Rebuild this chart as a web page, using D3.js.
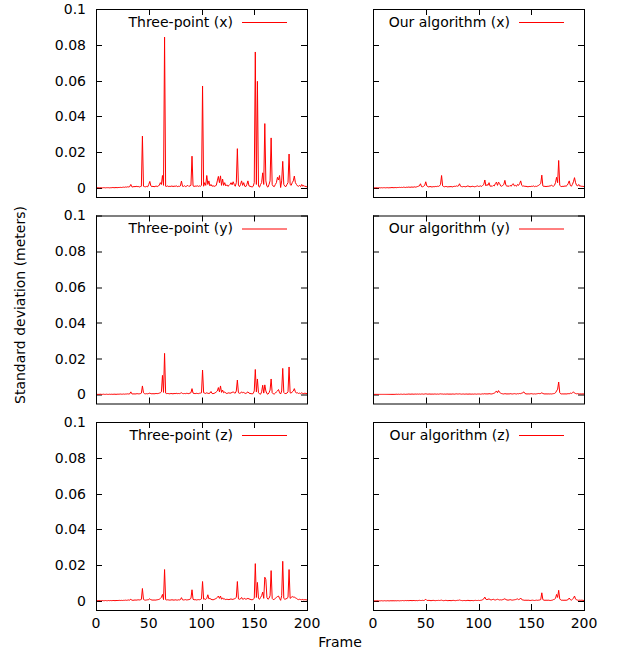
<!DOCTYPE html>
<html>
<head>
<meta charset="utf-8">
<script src="https://cdn.jsdelivr.net/npm/d3@7"></script>
<style>
  body { margin: 0; background: #fff; }
  svg text { font-family: 'DejaVu Sans', sans-serif; fill: #000; }
</style>
</head>
<body>
<svg id="chart" width="618" height="654"></svg>
<script>
// standard deviation per frame (meters), frames 1..200
const threePointX = [
  0.0002,0.0002,0.0001,0.0002,0.0002,0.0001,0.0002,0.0002,0.0001,0.0002,0.0002,0.0002,0.0001,0.0002,0.0002,0.0003,0.0002,0.0002,0.0003,0.0002,
  0.0003,0.0003,0.0004,0.0003,0.0004,0.0005,0.0004,0.0006,0.0005,0.0007,0.0006,0.0008,0.0020,0.0007,0.0006,0.0009,0.0007,0.0010,0.0008,0.0009,
  0.0006,0.0008,0.0010,0.0290,0.0010,0.0008,0.0007,0.0009,0.0007,0.0020,0.0037,0.0012,0.0008,0.0010,0.0007,0.0009,0.0011,0.0008,0.0012,0.0015,
  0.0030,0.0020,0.0070,0.0015,0.0843,0.0010,0.0009,0.0012,0.0008,0.0010,0.0009,0.0012,0.0008,0.0011,0.0009,0.0013,0.0008,0.0010,0.0009,0.0012,
  0.0039,0.0010,0.0009,0.0013,0.0008,0.0011,0.0015,0.0009,0.0012,0.0015,0.0178,0.0012,0.0009,0.0011,0.0010,0.0013,0.0009,0.0012,0.0010,0.0015,
  0.0570,0.0010,0.0030,0.0015,0.0070,0.0020,0.0040,0.0012,0.0020,0.0010,0.0013,0.0009,0.0012,0.0015,0.0040,0.0065,0.0030,0.0068,0.0015,0.0050,
  0.0015,0.0030,0.0012,0.0018,0.0010,0.0014,0.0020,0.0030,0.0018,0.0035,0.0020,0.0010,0.0030,0.0220,0.0015,0.0008,0.0020,0.0040,0.0015,0.0030,
  0.0010,0.0008,0.0020,0.0040,0.0012,0.0010,0.0008,0.0006,0.0010,0.0030,0.0760,0.0020,0.0596,0.0010,0.0005,0.0020,0.0030,0.0085,0.0020,0.0360,
  0.0040,0.0010,0.0005,0.0020,0.0040,0.0280,0.0020,0.0010,0.0008,0.0020,0.0030,0.0060,0.0045,0.0070,0.0003,0.0040,0.0149,0.0020,0.0010,0.0008,
  0.0020,0.0030,0.0190,0.0020,0.0015,0.0030,0.0040,0.0067,0.0030,0.0020,0.0012,0.0010,0.0015,0.0008,0.0020,0.0010,0.0015,0.0008,0.0010,0.0005
];
const ourX = [
  0.0001,0.0001,0.0002,0.0001,0.0001,0.0002,0.0001,0.0002,0.0001,0.0002,0.0002,0.0001,0.0002,0.0002,0.0001,0.0002,0.0002,0.0003,0.0002,0.0002,
  0.0003,0.0002,0.0003,0.0003,0.0004,0.0003,0.0004,0.0003,0.0005,0.0004,0.0003,0.0005,0.0004,0.0006,0.0004,0.0005,0.0006,0.0004,0.0007,0.0005,
  0.0006,0.0008,0.0010,0.0012,0.0024,0.0008,0.0007,0.0010,0.0015,0.0035,0.0012,0.0008,0.0006,0.0009,0.0007,0.0006,0.0008,0.0007,0.0009,0.0008,
  0.0010,0.0009,0.0012,0.0020,0.0070,0.0012,0.0008,0.0007,0.0009,0.0008,0.0006,0.0008,0.0007,0.0009,0.0006,0.0008,0.0010,0.0009,0.0012,0.0010,
  0.0012,0.0024,0.0010,0.0008,0.0007,0.0009,0.0008,0.0007,0.0010,0.0012,0.0009,0.0007,0.0008,0.0010,0.0009,0.0007,0.0008,0.0010,0.0012,0.0009,
  0.0010,0.0012,0.0009,0.0015,0.0020,0.0045,0.0012,0.0020,0.0015,0.0030,0.0010,0.0012,0.0009,0.0015,0.0012,0.0025,0.0033,0.0015,0.0033,0.0025,
  0.0012,0.0010,0.0015,0.0020,0.0043,0.0015,0.0010,0.0012,0.0009,0.0015,0.0010,0.0020,0.0024,0.0012,0.0015,0.0010,0.0020,0.0015,0.0025,0.0040,
  0.0015,0.0010,0.0012,0.0009,0.0010,0.0008,0.0007,0.0009,0.0008,0.0010,0.0009,0.0012,0.0008,0.0010,0.0009,0.0012,0.0015,0.0020,0.0025,0.0072,
  0.0012,0.0009,0.0010,0.0008,0.0010,0.0009,0.0012,0.0010,0.0017,0.0012,0.0010,0.0015,0.0030,0.0060,0.0030,0.0154,0.0015,0.0010,0.0008,0.0010,
  0.0009,0.0012,0.0010,0.0015,0.0025,0.0040,0.0015,0.0010,0.0020,0.0035,0.0058,0.0030,0.0015,0.0012,0.0020,0.0010,0.0012,0.0009,0.0010,0.0008
];
const threePointY = [
  0.0001,0.0001,0.0001,0.0002,0.0001,0.0001,0.0002,0.0001,0.0001,0.0002,0.0001,0.0001,0.0002,0.0001,0.0002,0.0001,0.0002,0.0002,0.0001,0.0002,
  0.0002,0.0002,0.0003,0.0002,0.0002,0.0003,0.0002,0.0003,0.0003,0.0004,0.0003,0.0004,0.0015,0.0004,0.0003,0.0004,0.0003,0.0004,0.0005,0.0004,
  0.0004,0.0005,0.0008,0.0048,0.0010,0.0005,0.0004,0.0005,0.0004,0.0006,0.0008,0.0005,0.0004,0.0005,0.0004,0.0005,0.0006,0.0005,0.0006,0.0008,
  0.0010,0.0015,0.0107,0.0012,0.0230,0.0008,0.0005,0.0006,0.0005,0.0004,0.0006,0.0005,0.0004,0.0006,0.0005,0.0007,0.0005,0.0006,0.0005,0.0007,
  0.0010,0.0006,0.0005,0.0006,0.0005,0.0007,0.0006,0.0005,0.0008,0.0010,0.0033,0.0008,0.0006,0.0005,0.0007,0.0006,0.0005,0.0007,0.0008,0.0010,
  0.0137,0.0010,0.0008,0.0006,0.0010,0.0007,0.0006,0.0008,0.0017,0.0006,0.0005,0.0007,0.0009,0.0015,0.0020,0.0039,0.0015,0.0048,0.0012,0.0025,
  0.0010,0.0015,0.0008,0.0006,0.0008,0.0010,0.0007,0.0009,0.0012,0.0015,0.0010,0.0008,0.0020,0.0081,0.0010,0.0007,0.0008,0.0015,0.0010,0.0012,
  0.0008,0.0006,0.0010,0.0015,0.0008,0.0006,0.0005,0.0004,0.0006,0.0020,0.0140,0.0015,0.0087,0.0010,0.0004,0.0002,0.0015,0.0052,0.0008,0.0054,
  0.0020,0.0005,0.0002,0.0010,0.0025,0.0087,0.0010,0.0004,0.0003,0.0008,0.0015,0.0020,0.0028,0.0010,0.0003,0.0020,0.0146,0.0012,0.0005,0.0006,
  0.0008,0.0015,0.0154,0.0010,0.0008,0.0015,0.0020,0.0033,0.0015,0.0008,0.0010,0.0006,0.0008,0.0005,0.0010,0.0006,0.0005,0.0008,0.0006,0.0005
];
const ourY = [
  0.0001,0.0001,0.0001,0.0001,0.0001,0.0001,0.0001,0.0001,0.0001,0.0001,0.0001,0.0001,0.0001,0.0001,0.0001,0.0001,0.0001,0.0001,0.0001,0.0001,
  0.0001,0.0002,0.0001,0.0002,0.0001,0.0002,0.0002,0.0001,0.0002,0.0002,0.0001,0.0002,0.0002,0.0003,0.0002,0.0002,0.0003,0.0002,0.0002,0.0003,
  0.0002,0.0003,0.0002,0.0003,0.0002,0.0003,0.0003,0.0002,0.0003,0.0004,0.0003,0.0002,0.0003,0.0003,0.0002,0.0003,0.0002,0.0003,0.0003,0.0002,
  0.0003,0.0002,0.0003,0.0004,0.0003,0.0003,0.0002,0.0003,0.0002,0.0003,0.0003,0.0002,0.0003,0.0002,0.0003,0.0003,0.0002,0.0003,0.0004,0.0003,
  0.0003,0.0004,0.0003,0.0002,0.0003,0.0003,0.0002,0.0003,0.0003,0.0002,0.0003,0.0003,0.0002,0.0003,0.0002,0.0003,0.0003,0.0002,0.0003,0.0003,
  0.0003,0.0002,0.0003,0.0004,0.0003,0.0005,0.0003,0.0004,0.0003,0.0005,0.0004,0.0003,0.0004,0.0006,0.0008,0.0012,0.0020,0.0010,0.0022,0.0012,
  0.0008,0.0005,0.0004,0.0003,0.0005,0.0004,0.0003,0.0004,0.0003,0.0005,0.0004,0.0003,0.0004,0.0005,0.0004,0.0003,0.0005,0.0004,0.0006,0.0005,
  0.0008,0.0010,0.0015,0.0006,0.0004,0.0003,0.0004,0.0003,0.0004,0.0005,0.0004,0.0003,0.0004,0.0003,0.0004,0.0005,0.0006,0.0005,0.0006,0.0010,
  0.0006,0.0004,0.0003,0.0004,0.0003,0.0004,0.0003,0.0004,0.0003,0.0004,0.0005,0.0006,0.0010,0.0020,0.0030,0.0070,0.0010,0.0004,0.0003,0.0004,
  0.0003,0.0004,0.0003,0.0004,0.0005,0.0004,0.0008,0.0006,0.0010,0.0015,0.0008,0.0006,0.0004,0.0005,0.0004,0.0003,0.0004,0.0003,0.0004,0.0003
];
const threePointZ = [
  0.0002,0.0002,0.0003,0.0002,0.0002,0.0003,0.0002,0.0002,0.0003,0.0002,0.0002,0.0003,0.0002,0.0003,0.0002,0.0003,0.0003,0.0002,0.0003,0.0003,
  0.0003,0.0004,0.0003,0.0004,0.0003,0.0004,0.0004,0.0005,0.0004,0.0005,0.0006,0.0005,0.0010,0.0005,0.0004,0.0005,0.0006,0.0005,0.0006,0.0007,
  0.0006,0.0007,0.0009,0.0070,0.0009,0.0006,0.0005,0.0006,0.0007,0.0008,0.0013,0.0007,0.0006,0.0005,0.0006,0.0005,0.0006,0.0007,0.0008,0.0010,
  0.0015,0.0020,0.0037,0.0008,0.0176,0.0008,0.0006,0.0007,0.0006,0.0005,0.0006,0.0007,0.0006,0.0005,0.0007,0.0006,0.0005,0.0007,0.0006,0.0008,
  0.0019,0.0007,0.0006,0.0007,0.0008,0.0006,0.0007,0.0008,0.0010,0.0015,0.0063,0.0010,0.0007,0.0008,0.0006,0.0007,0.0008,0.0007,0.0009,0.0012,
  0.0109,0.0010,0.0012,0.0009,0.0015,0.0035,0.0012,0.0015,0.0010,0.0008,0.0007,0.0009,0.0012,0.0015,0.0020,0.0028,0.0015,0.0028,0.0010,0.0018,
  0.0010,0.0012,0.0008,0.0010,0.0009,0.0008,0.0010,0.0012,0.0009,0.0010,0.0012,0.0015,0.0020,0.0109,0.0012,0.0010,0.0012,0.0020,0.0010,0.0012,
  0.0015,0.0010,0.0012,0.0015,0.0012,0.0010,0.0008,0.0007,0.0010,0.0015,0.0209,0.0020,0.0104,0.0015,0.0010,0.0020,0.0030,0.0050,0.0015,0.0133,
  0.0120,0.0020,0.0010,0.0015,0.0030,0.0170,0.0015,0.0008,0.0010,0.0015,0.0020,0.0025,0.0028,0.0015,0.0004,0.0030,0.0222,0.0015,0.0010,0.0012,
  0.0015,0.0020,0.0176,0.0015,0.0020,0.0025,0.0022,0.0022,0.0018,0.0015,0.0010,0.0008,0.0010,0.0008,0.0007,0.0009,0.0006,0.0008,0.0007,0.0006
];
const ourZ = [
  0.0001,0.0001,0.0001,0.0002,0.0001,0.0001,0.0001,0.0002,0.0001,0.0001,0.0002,0.0001,0.0001,0.0002,0.0001,0.0001,0.0002,0.0001,0.0002,0.0001,
  0.0002,0.0001,0.0002,0.0002,0.0001,0.0002,0.0002,0.0003,0.0002,0.0002,0.0003,0.0002,0.0003,0.0002,0.0003,0.0003,0.0002,0.0003,0.0003,0.0002,
  0.0003,0.0002,0.0003,0.0004,0.0003,0.0003,0.0004,0.0003,0.0005,0.0010,0.0004,0.0003,0.0004,0.0003,0.0002,0.0003,0.0004,0.0003,0.0002,0.0003,
  0.0003,0.0004,0.0003,0.0004,0.0005,0.0003,0.0002,0.0003,0.0004,0.0003,0.0002,0.0003,0.0003,0.0002,0.0003,0.0004,0.0003,0.0002,0.0003,0.0004,
  0.0004,0.0006,0.0004,0.0003,0.0002,0.0003,0.0003,0.0002,0.0003,0.0004,0.0003,0.0002,0.0003,0.0003,0.0002,0.0003,0.0004,0.0003,0.0003,0.0004,
  0.0003,0.0004,0.0005,0.0008,0.0012,0.0022,0.0010,0.0008,0.0010,0.0012,0.0008,0.0006,0.0008,0.0010,0.0007,0.0006,0.0008,0.0010,0.0008,0.0006,
  0.0007,0.0006,0.0008,0.0010,0.0013,0.0008,0.0006,0.0005,0.0006,0.0008,0.0006,0.0005,0.0006,0.0007,0.0008,0.0010,0.0012,0.0008,0.0010,0.0017,
  0.0008,0.0006,0.0005,0.0004,0.0005,0.0004,0.0005,0.0004,0.0003,0.0004,0.0005,0.0004,0.0003,0.0004,0.0005,0.0004,0.0005,0.0006,0.0008,0.0046,
  0.0008,0.0005,0.0004,0.0005,0.0004,0.0005,0.0004,0.0003,0.0004,0.0005,0.0008,0.0010,0.0015,0.0037,0.0020,0.0060,0.0012,0.0006,0.0004,0.0005,
  0.0004,0.0005,0.0004,0.0006,0.0008,0.0017,0.0008,0.0005,0.0010,0.0015,0.0028,0.0012,0.0006,0.0005,0.0004,0.0005,0.0004,0.0005,0.0004,0.0003
];

const panelTitles = [
  ['Three-point (x)', 'Our algorithm (x)'],
  ['Three-point (y)', 'Our algorithm (y)'],
  ['Three-point (z)', 'Our algorithm (z)']
];
const panelSeries = [
  [threePointX, ourX],
  [threePointY, ourY],
  [threePointZ, ourZ]
];
const xTicks = [0, 50, 100, 150, 200];
const yTicks = [0, 0.02, 0.04, 0.06, 0.08, 0.1];

const svg = d3.select('svg#chart');

const colLeft = [96, 373];
const rowTop = [9, 215.5, 422];
const panelWidth = 211;
const panelHeight = 188;
const tickLen = 6;
const fontSize = '14px';

const x = d3.scaleLinear().domain([0, 200]).range([0, panelWidth]);
const y = d3.scaleLinear().domain([-0.005, 0.1]).range([panelHeight, 0]);

const yFormat = (d) => (d === 0 ? '0' : d3.format('.2~f')(d));

const line = d3.line()
  .x((d, i) => x(i + 1))
  .y((d) => y(d));

rowTop.forEach((top, r) => {
  colLeft.forEach((left, c) => {
    const g = svg.append('g')
      .attr('transform', `translate(${left}, ${top})`);

    // inward ticks on every side, like gnuplot's mirrored tics
    const tickG = g.append('g').attr('stroke', '#000').attr('stroke-width', 1);
    yTicks.forEach((t) => {
      const yy = Math.round(y(t)) + 0.5;
      tickG.append('line').attr('x1', 0).attr('x2', tickLen).attr('y1', yy).attr('y2', yy);
      tickG.append('line').attr('x1', panelWidth - tickLen).attr('x2', panelWidth).attr('y1', yy).attr('y2', yy);
    });
    xTicks.forEach((t) => {
      const xx = Math.round(x(t)) + 0.5;
      tickG.append('line').attr('x1', xx).attr('x2', xx).attr('y1', panelHeight).attr('y2', panelHeight - tickLen);
      tickG.append('line').attr('x1', xx).attr('x2', xx).attr('y1', 0).attr('y2', tickLen);
    });

    g.append('path')
      .datum(panelSeries[r][c])
      .attr('fill', 'none')
      .attr('stroke', '#ff0000')
      .attr('stroke-width', 1)
      .attr('d', line);

    g.append('rect')
      .attr('x', 0.5)
      .attr('y', 0.5)
      .attr('width', panelWidth)
      .attr('height', panelHeight)
      .attr('fill', 'none')
      .attr('stroke', '#000')
      .attr('stroke-width', 1);

    // key
    g.append('text')
      .attr('x', 137)
      .attr('y', 13)
      .attr('dy', '0.35em')
      .attr('text-anchor', 'end')
      .attr('font-size', fontSize)
      .text(panelTitles[r][c]);
    g.append('line')
      .attr('x1', 146)
      .attr('x2', 191)
      .attr('y1', 13.5)
      .attr('y2', 13.5)
      .attr('stroke', '#ff0000')
      .attr('stroke-width', 1);

    if (c === 0) {
      g.selectAll('text.ytick')
        .data(yTicks)
        .enter()
        .append('text')
        .attr('class', 'ytick')
        .attr('x', -10)
        .attr('y', (d) => y(d))
        .attr('dy', '0.35em')
        .attr('text-anchor', 'end')
        .attr('font-size', fontSize)
        .text(yFormat);
    }
    if (r === 2) {
      g.selectAll('text.xtick')
        .data(xTicks)
        .enter()
        .append('text')
        .attr('class', 'xtick')
        .attr('x', (d) => x(d))
        .attr('y', panelHeight + 13)
        .attr('dy', '0.35em')
        .attr('text-anchor', 'middle')
        .attr('font-size', fontSize)
        .text((d) => d);
    }
  });
});

svg.append('text')
  .attr('x', 340)
  .attr('y', 642)
  .attr('dy', '0.35em')
  .attr('text-anchor', 'middle')
  .attr('font-size', fontSize)
  .text('Frame');

svg.append('text')
  .attr('transform', 'translate(20, 305) rotate(-90)')
  .attr('dy', '0.35em')
  .attr('text-anchor', 'middle')
  .attr('font-size', fontSize)
  .text('Standard deviation (meters)');
</script>
</body>
</html>
